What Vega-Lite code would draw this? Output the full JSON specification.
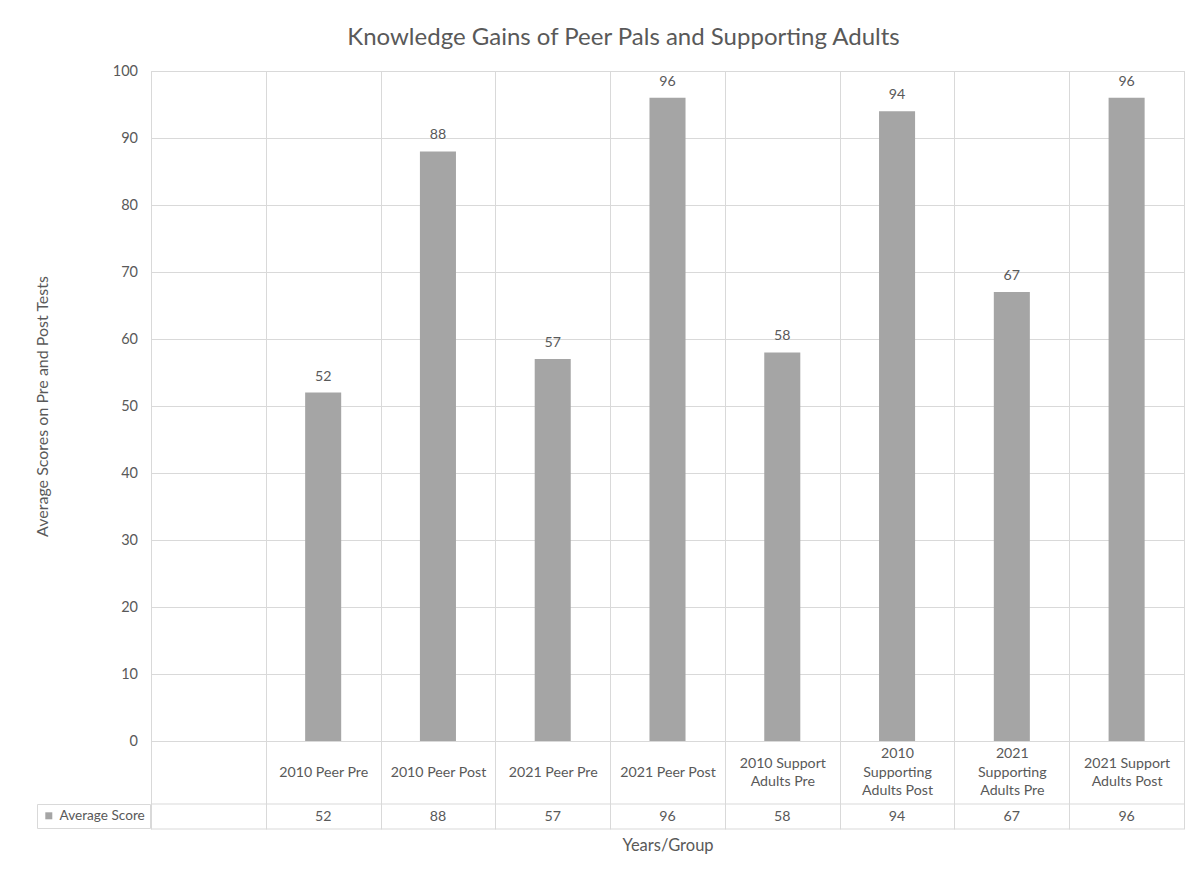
{
  "$schema": "https://vega.github.io/schema/vega-lite/v6.json",
  "width": 1033,
  "height": 670,
  "autosize": {"type": "none"},
  "padding": {"left": 151, "top": 71, "right": 11, "bottom": 131},
  "background": "white",
  "title": {
    "text": "Knowledge Gains of Peer Pals and Supporting Adults",
    "font": "Lato",
    "fontSize": 24,
    "fontWeight": "normal",
    "color": "#595959",
    "anchor": "middle",
    "dx": -44,
    "baseline": "alphabetic",
    "offset": -6
  },
  "config": {
    "view": {"stroke": "#d9d9d9"},
    "font": "Lato"
  },
  "data": {
    "values": [
      {"group": "2010 Peer Pre", "score": 52},
      {"group": "2010 Peer Post", "score": 88},
      {"group": "2021 Peer Pre", "score": 57},
      {"group": "2021 Peer Post", "score": 96},
      {"group": "2010 Support Adults Pre", "score": 58},
      {"group": "2010 Supporting Adults Post", "score": 94},
      {"group": "2021 Supporting Adults Pre", "score": 67},
      {"group": "2021 Support Adults Post", "score": 96}
    ]
  },
  "layer": [
    {
      "mark": {"type": "bar", "width": {"band": 0.314}},
      "encoding": {
        "x": {
          "field": "group",
          "type": "nominal",
          "sort": null,
          "scale": {
            "domain": [" ", "2010 Peer Pre", "2010 Peer Post", "2021 Peer Pre", "2021 Peer Post", "2010 Support Adults Pre", "2010 Supporting Adults Post", "2021 Supporting Adults Pre", "2021 Support Adults Post"],
            "paddingInner": 0,
            "paddingOuter": 0
          },
          "axis": {
            "orient": "bottom",
            "title": "Years/Group",
            "titleFont": "Lato",
            "titleFontSize": 16.5,
            "titleFontWeight": "normal",
            "titleColor": "#595959",
            "titlePadding": 8,
            "grid": true,
            "gridColor": "#d9d9d9",
            "gridWidth": 1,
            "tickBand": "extent",
            "ticks": true,
            "tickSize": 88,
            "tickColor": "#d9d9d9",
            "domain": true,
            "domainColor": "#d9d9d9",
            "labelAngle": 0,
            "labelAlign": "center",
            "labelBaseline": "middle",
            "labelPadding": {
              "condition": [
                {"test": "indexof(datum.label, 'Supporting') >= 0", "value": -75.5},
                {"test": "indexof(datum.label, 'Support ') >= 0", "value": -66}
              ],
              "value": -57
            },
            "labelColor": "#595959",
            "labelFont": "Lato",
            "labelFontSize": 14.2,
            "labelLineHeight": 18.5,
            "labelLimit": 0,
            "labelExpr": "datum.label == '2010 Support Adults Pre' ? ['2010 Support', 'Adults Pre'] : datum.label == '2010 Supporting Adults Post' ? ['2010', 'Supporting', 'Adults Post'] : datum.label == '2021 Supporting Adults Pre' ? ['2021', 'Supporting', 'Adults Pre'] : datum.label == '2021 Support Adults Post' ? ['2021 Support', 'Adults Post'] : datum.label"
          }
        },
        "y": {
          "field": "score",
          "type": "quantitative",
          "scale": {"domain": [0, 100], "nice": false},
          "axis": {
            "values": [0, 10, 20, 30, 40, 50, 60, 70, 80, 90, 100],
            "title": "Average Scores on Pre and Post Tests",
            "titleFont": "Lato",
            "titleFontSize": 16,
            "titleFontWeight": "normal",
            "titleColor": "#595959",
            "titlePadding": 62,
            "grid": true,
            "gridColor": "#d9d9d9",
            "domain": false,
            "ticks": false,
            "labelPadding": 13.5,
            "labelColor": "#595959",
            "labelFont": "Lato",
            "labelFontSize": 14.5
          }
        },
        "color": {
          "datum": "Average Score",
          "type": "nominal",
          "scale": {"range": ["#a5a5a5"]},
          "legend": {
            "orient": "none",
            "legendX": -114,
            "legendY": 733,
            "title": null,
            "symbolType": "square",
            "symbolSize": 49,
            "symbolStrokeWidth": 0,
            "labelFont": "Lato",
            "labelFontSize": 13.6,
            "labelColor": "#595959",
            "labelOffset": 4,
            "strokeColor": "#d9d9d9",
            "padding": 5
          }
        }
      }
    },
    {
      "mark": {"type": "text", "baseline": "alphabetic", "dy": -12, "fontSize": 14.2, "color": "#595959", "font": "Lato"},
      "encoding": {
        "x": {"field": "group", "type": "nominal", "sort": null},
        "y": {"field": "score", "type": "quantitative"},
        "text": {"field": "score", "type": "quantitative"}
      }
    },
    {
      "mark": {"type": "text", "baseline": "middle", "dy": 75.5, "fontSize": 14.2, "color": "#595959", "font": "Lato"},
      "encoding": {
        "x": {"field": "group", "type": "nominal", "sort": null},
        "y": {"datum": 0},
        "text": {"field": "score", "type": "quantitative"}
      }
    },
    {
      "data": {"values": [{}]},
      "mark": {"type": "rule", "yOffset": 63, "color": "#d9d9d9", "strokeWidth": 1},
      "encoding": {"y": {"datum": 0}}
    },
    {
      "data": {"values": [{}]},
      "mark": {"type": "rule", "yOffset": 88, "color": "#d9d9d9", "strokeWidth": 1},
      "encoding": {"y": {"datum": 0}}
    }
  ]
}
